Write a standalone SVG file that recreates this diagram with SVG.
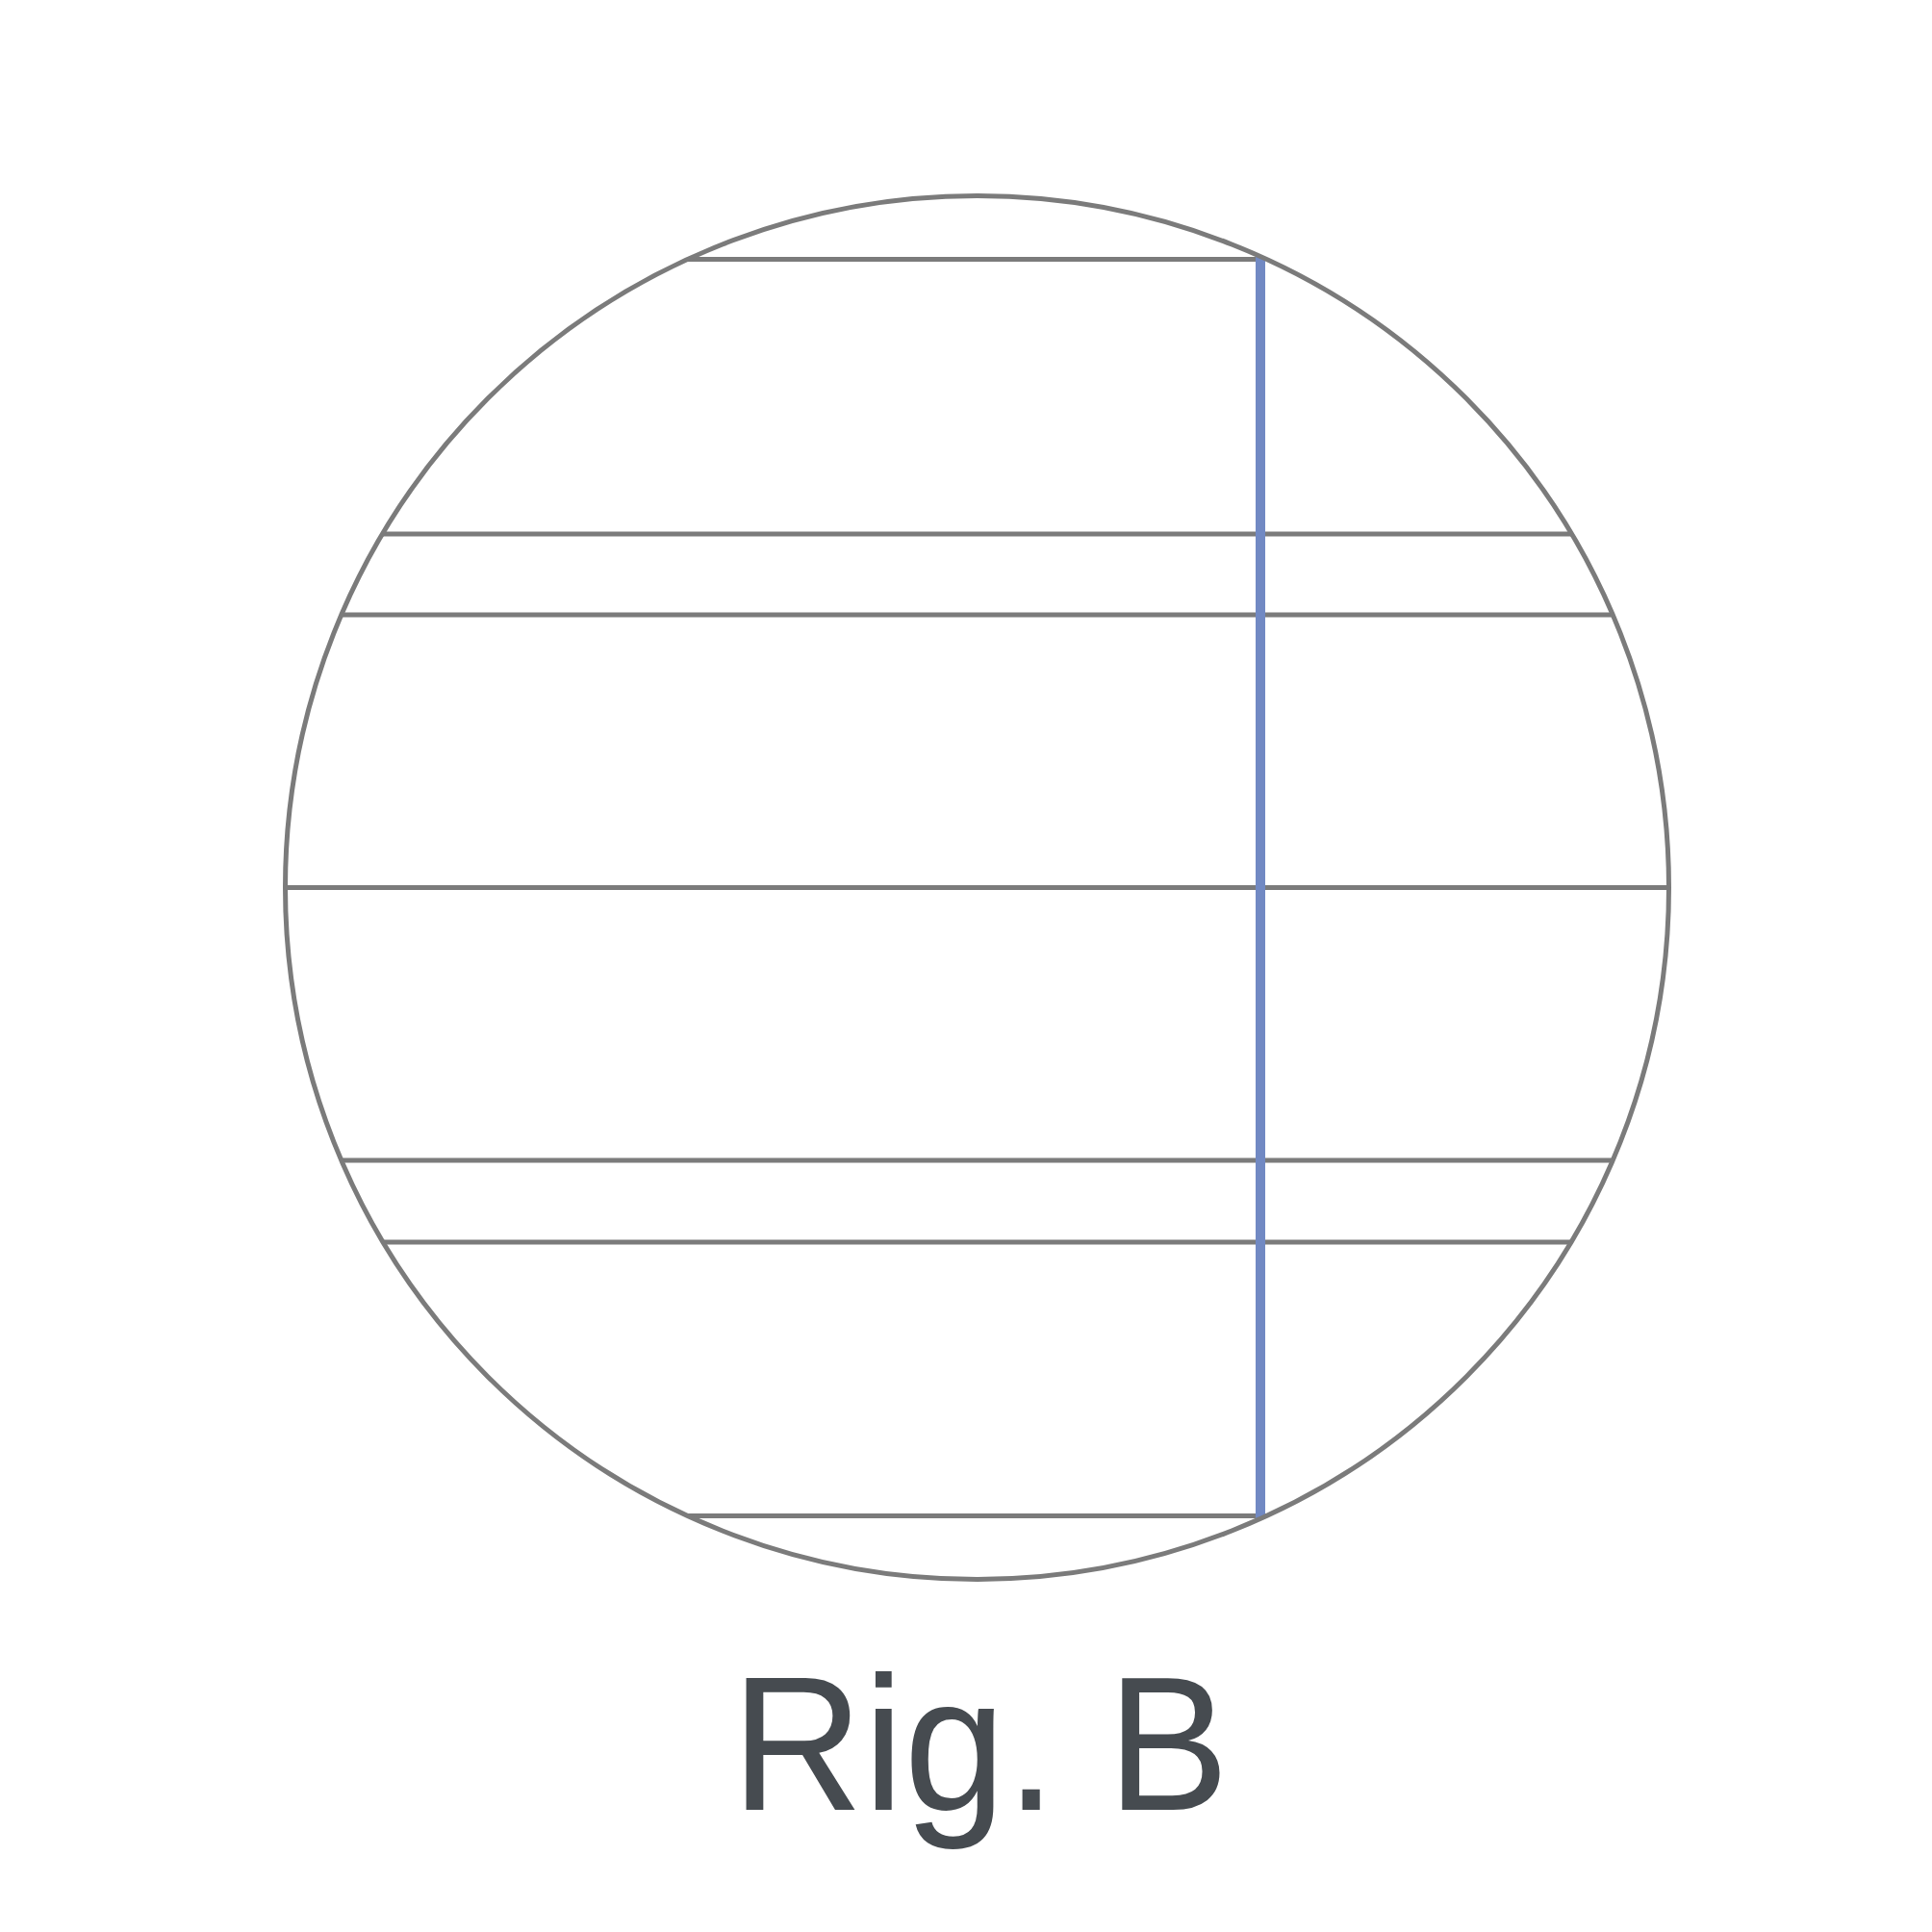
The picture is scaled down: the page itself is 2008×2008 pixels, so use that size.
<svg xmlns="http://www.w3.org/2000/svg" width="2008" height="2008" viewBox="0 0 2008 2008">
<style>
.g{stroke:#7b7b7b;stroke-width:5;fill:none}
.b{stroke:#7189c3;stroke-width:10;fill:none}
.t{font-family:"Liberation Sans",Arial,sans-serif;font-size:199px;fill:#464b50}
</style>
<defs>
<clipPath id="cc"><circle cx="1015.5" cy="922.5" r="719"/></clipPath>
</defs>
<rect width="2008" height="2008" fill="#ffffff"/>
<g id="rules" clip-path="url(#cc)">
<line class="g" x1="280" y1="269.5" x2="1310" y2="269.5"/>
<line class="g" x1="280" y1="555" x2="1760" y2="555"/>
<line class="g" x1="280" y1="639" x2="1760" y2="639"/>
<line class="g" x1="280" y1="922.5" x2="1760" y2="922.5"/>
<line class="g" x1="280" y1="1206" x2="1760" y2="1206"/>
<line class="g" x1="280" y1="1291" x2="1760" y2="1291"/>
<line class="g" x1="280" y1="1575.5" x2="1760" y2="1575.5"/>
<line class="b" x1="1310" y1="267" x2="1310" y2="1580"/>
</g>
<g id="outline">
<circle class="g" cx="1015.5" cy="922.5" r="719"/>
</g>
<g id="caption">
<text class="t" transform="translate(760,1880.5) scale(0.955,1)" x="0" y="0">Rig. B</text>
</g>
</svg>
